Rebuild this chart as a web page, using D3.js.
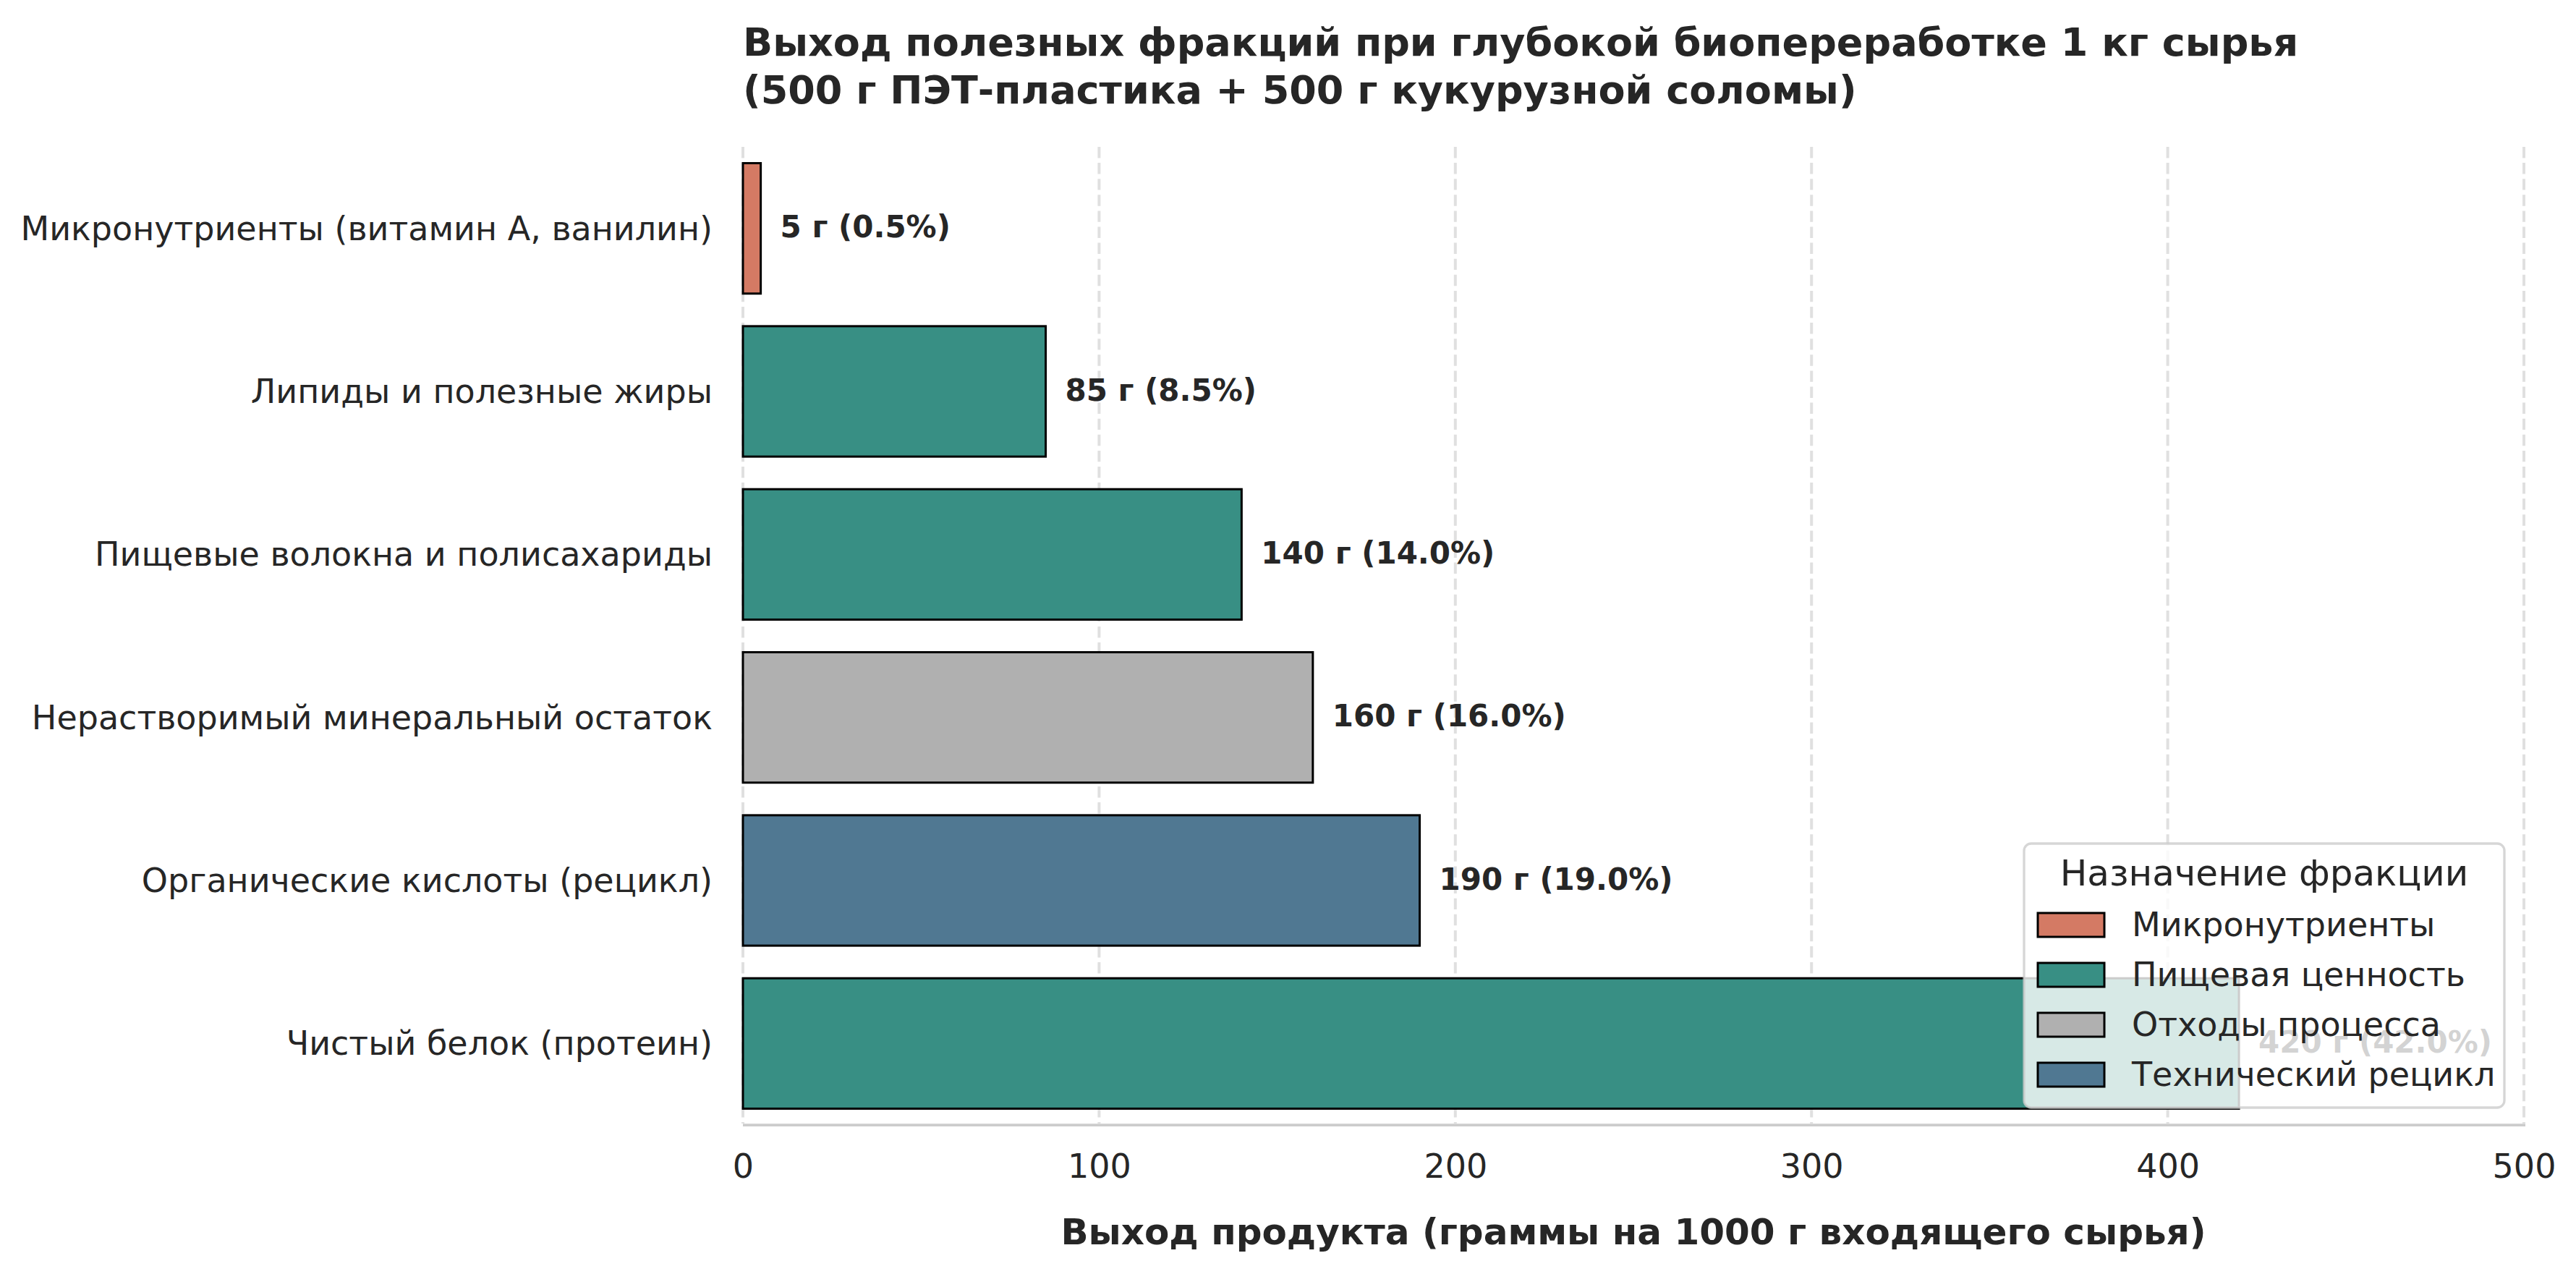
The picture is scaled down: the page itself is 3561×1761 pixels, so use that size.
<!DOCTYPE html>
<html>
<head>
<meta charset="utf-8">
<script src="https://cdn.jsdelivr.net/npm/d3@7"></script>
<style>
  html, body { margin: 0; padding: 0; background: #fff; }
  svg { display: block; font-family: "DejaVu Sans", sans-serif; }
</style>
</head>
<body>
<svg id="chart" width="3561" height="1761"></svg>
<script>
// data, top to bottom as in the chart
const categories = [
  'Микронутриенты (витамин А, ванилин)',
  'Липиды и полезные жиры',
  'Пищевые волокна и полисахариды',
  'Нерастворимый минеральный остаток',
  'Органические кислоты (рецикл)',
  'Чистый белок (протеин)'
];
const values = [5, 85, 140, 160, 190, 420];
const fractionGroups = [
  'Микронутриенты',
  'Пищевая ценность',
  'Пищевая ценность',
  'Отходы процесса',
  'Технический рецикл',
  'Пищевая ценность'
];
const legendGroups = ['Микронутриенты', 'Пищевая ценность', 'Отходы процесса', 'Технический рецикл'];
const groupColors = ['#D47A64', '#388F84', '#B0B0B0', '#507892'];
const xTicks = [0, 100, 200, 300, 400, 500];

const total = d3.sum(values);
const rows = categories.map((c, i) => ({cat: c, value: values[i], group: fractionGroups[i]}));

const svg = d3.select('#chart');
const textColor = '#262626';

const plotLeft = 1027, plotRight = 3489, plotTop = 203, plotBottom = 1555;

const x = d3.scaleLinear().domain([0, 500]).range([plotLeft, plotRight]);
const y = d3.scaleBand().domain(categories).range([plotTop, plotBottom]).paddingInner(0.2).paddingOuter(0.1);
const color = d3.scaleOrdinal().domain(legendGroups).range(groupColors);

// grid
svg.append('g')
  .selectAll('line')
  .data(xTicks)
  .enter()
  .append('line')
  .attr('x1', d => x(d)).attr('x2', d => x(d))
  .attr('y1', plotTop).attr('y2', plotBottom - 2)
  .attr('stroke', '#e0e0e0')
  .attr('stroke-width', 4)
  .attr('stroke-dasharray', '15.4,6.7');

// bars
svg.append('g')
  .selectAll('rect')
  .data(rows)
  .enter()
  .append('rect')
  .attr('x', x(0))
  .attr('y', d => y(d.cat))
  .attr('width', d => x(d.value) - x(0))
  .attr('height', y.bandwidth())
  .attr('fill', d => color(d.group))
  .attr('stroke', '#000')
  .attr('stroke-width', 3);

// bottom spine
svg.append('line')
  .attr('x1', plotLeft).attr('x2', plotRight + 2)
  .attr('y1', plotBottom).attr('y2', plotBottom)
  .attr('stroke', '#cccccc')
  .attr('stroke-width', 3.75);

// x axis ticks
const xAxis = d3.axisBottom(x).tickValues(xTicks).tickSize(0).tickPadding(0);
const gx = svg.append('g').attr('transform', `translate(0,${plotBottom})`).call(xAxis);
gx.select('.domain').remove();
gx.selectAll('text')
  .attr('y', 73).attr('dy', null)
  .attr('font-size', 46)
  .attr('font-family', 'DejaVu Sans')
  .attr('fill', textColor);

// y axis labels
const yAxis = d3.axisLeft(y).tickSize(0).tickPadding(0);
const gy = svg.append('g').attr('transform', `translate(${plotLeft},0)`).call(yAxis);
gy.select('.domain').remove();
gy.selectAll('text')
  .attr('x', -42)
  .attr('dy', '0.35em')
  .attr('font-size', 46)
  .attr('font-family', 'DejaVu Sans')
  .attr('fill', textColor);

// value labels
svg.append('g')
  .selectAll('text')
  .data(rows)
  .enter()
  .append('text')
  .attr('x', d => x(d.value) + 27)
  .attr('y', d => y(d.cat) + y.bandwidth() / 2)
  .attr('dy', '0.3em')
  .attr('font-size', 42)
  .attr('font-weight', 'bold')
  .attr('fill', textColor)
  .text(d => `${d.value} г (${(d.value / total * 100).toFixed(1)}%)`);

// title
const title = svg.append('text')
  .attr('x', plotLeft)
  .attr('font-size', 54)
  .attr('font-weight', 'bold')
  .attr('fill', textColor);
title.append('tspan').attr('x', plotLeft).attr('y', 77)
  .text('Выход полезных фракций при глубокой биопереработке 1 кг сырья');
title.append('tspan').attr('x', plotLeft).attr('y', 143)
  .text('(500 г ПЭТ-пластика + 500 г кукурузной соломы)');

// x label
svg.append('text')
  .attr('x', (plotLeft + plotRight) / 2)
  .attr('y', 1720)
  .attr('text-anchor', 'middle')
  .attr('font-size', 50)
  .attr('font-weight', 'bold')
  .attr('fill', textColor)
  .text('Выход продукта (граммы на 1000 г входящего сырья)');

// legend
const lg = svg.append('g').attr('class', 'legend');
const lgX = 2798, lgY = 1166, lgW = 664, lgH = 365;
lg.append('rect')
  .attr('x', lgX).attr('y', lgY)
  .attr('width', lgW).attr('height', lgH)
  .attr('rx', 10)
  .attr('fill', 'rgba(255,255,255,0.8)')
  .attr('stroke', 'rgba(204,204,204,0.8)')
  .attr('stroke-width', 3.3);
lg.append('text')
  .attr('x', lgX + lgW / 2)
  .attr('y', 1224)
  .attr('text-anchor', 'middle')
  .attr('font-size', 50)
  .attr('fill', textColor)
  .text('Назначение фракции');

const items = lg.selectAll('g.item')
  .data(legendGroups)
  .enter()
  .append('g')
  .attr('class', 'item')
  .attr('transform', (d, i) => `translate(0,${i * 69})`);
items.append('rect')
  .attr('x', 2817).attr('y', 1262)
  .attr('width', 92).attr('height', 33)
  .attr('fill', d => color(d))
  .attr('stroke', '#000')
  .attr('stroke-width', 3);
items.append('text')
  .attr('x', 2947).attr('y', 1294)
  .attr('font-size', 46)
  .attr('fill', textColor)
  .text(d => d);
</script>
</body>
</html>
